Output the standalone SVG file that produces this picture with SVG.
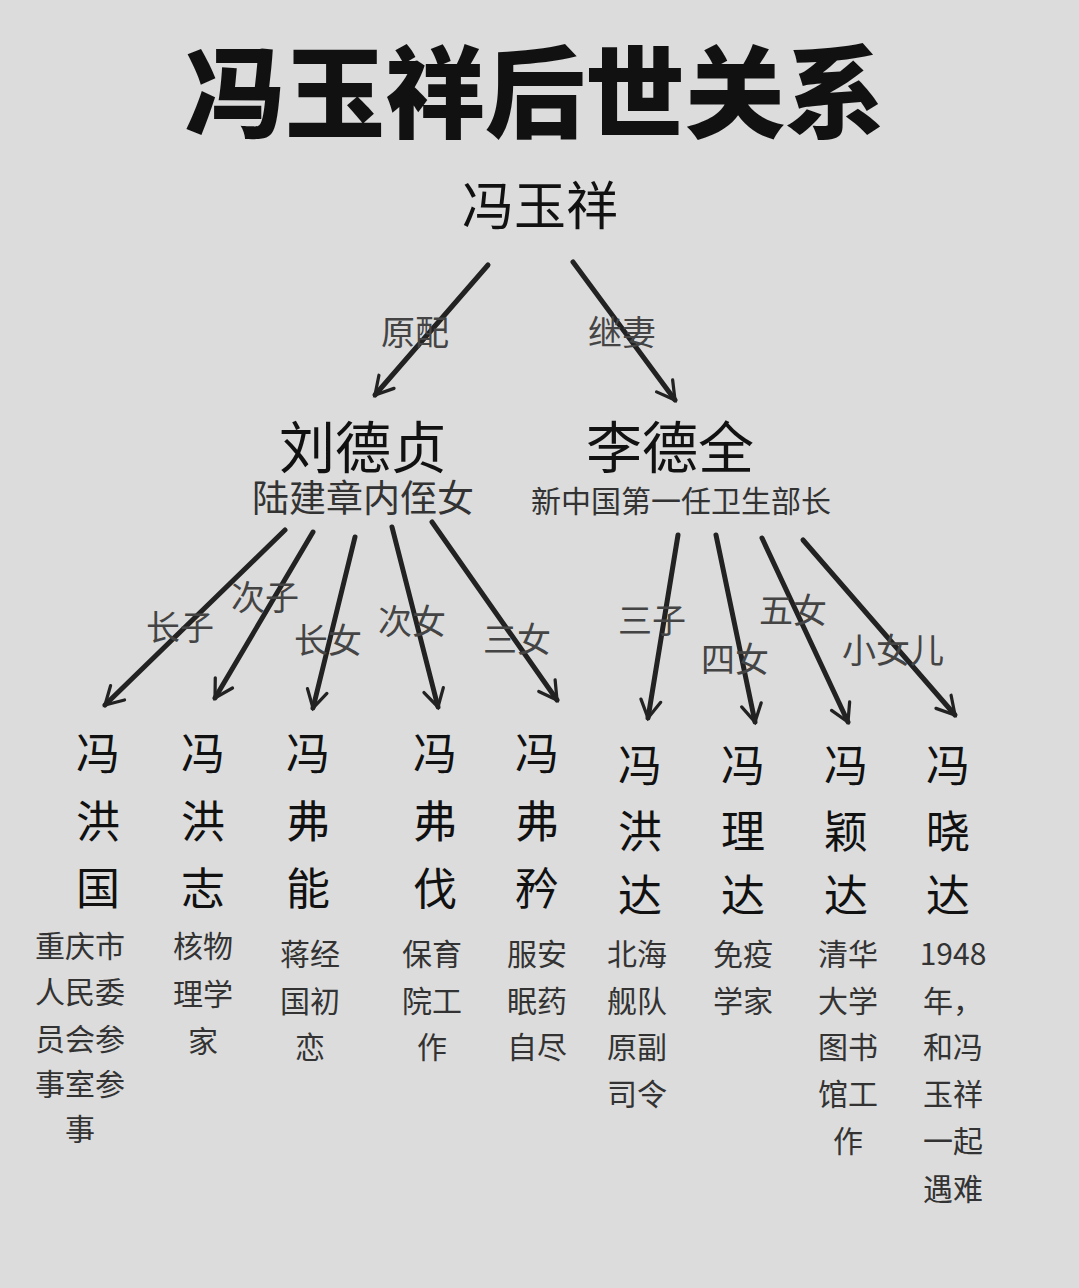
<svg xmlns="http://www.w3.org/2000/svg" width="1079" height="1288" viewBox="0 0 1079 1288">
<defs>
<marker id="ah" viewBox="0 0 10 10" refX="8" refY="5" markerWidth="5" markerHeight="5" orient="auto" markerUnits="strokeWidth"><path d="M1,1 L8,5 L1,9" fill="none" stroke="#222" stroke-width="1.3" stroke-linecap="round"/></marker>
<style>
text{font-family:"Noto Sans CJK SC","Noto Sans",sans-serif;text-anchor:middle;fill:#111}
.t{font-size:100px;font-weight:900}
.n{font-size:52px}
.m{font-size:56px}
.s{font-size:37px;fill:#333}
.l{font-size:34px;fill:#444}
.c{font-size:44px}
.d{font-size:30px;fill:#333}
line{stroke:#222;stroke-width:5;marker-end:url(#ah);stroke-linecap:round}
</style>
</defs>
<rect width="1079" height="1288" fill="#dcdcdc"/>
<text class="t" x="535" y="130">冯玉祥后世关系</text>
<g id="fyx"><text class="n" x="540" y="225">冯玉祥</text></g>
<g id="ldz"><text class="m" x="363" y="468">刘德贞</text><text class="s" x="363" y="512">陆建章内侄女</text></g>
<g id="ldq"><text class="m" x="670" y="468">李德全</text><text class="d" x="681" y="512">新中国第一任卫生部长</text></g>
<g id="connectors">
<line x1="488" y1="265" x2="375" y2="395"/><line x1="573" y1="262" x2="675" y2="400"/>
<line x1="285" y1="530" x2="105" y2="705"/><line x1="313" y1="532" x2="215" y2="698"/>
<line x1="355" y1="537" x2="313" y2="708"/><line x1="392" y1="527" x2="438" y2="707"/>
<line x1="432" y1="522" x2="557" y2="700"/><line x1="678" y1="535" x2="648" y2="718"/>
<line x1="716" y1="535" x2="755" y2="722"/><line x1="762" y1="538" x2="848" y2="722"/>
<line x1="803" y1="540" x2="955" y2="715"/>
<text class="l" x="415" y="345">原配</text><text class="l" x="622" y="345">继妻</text>
<text class="l" x="180" y="640">长子</text><text class="l" x="265" y="610">次子</text>
<text class="l" x="328" y="653">长女</text><text class="l" x="412" y="634">次女</text>
<text class="l" x="517" y="652">三女</text><text class="l" x="652" y="633">三子</text>
<text class="l" x="735" y="672">四女</text><text class="l" x="793" y="623">五女</text>
<text class="l" x="893" y="663">小女儿</text>
</g>
<g id="c1"><text class="c" x="98" y="770">冯</text><text class="c" x="98" y="838">洪</text><text class="c" x="98" y="905">国</text>
<text class="d" x="80" y="957">重庆市</text><text class="d" x="80" y="1003">人民委</text><text class="d" x="80" y="1050">员会参</text><text class="d" x="80" y="1095">事室参</text><text class="d" x="80" y="1140">事</text></g>
<g id="c2"><text class="c" x="203" y="770">冯</text><text class="c" x="203" y="838">洪</text><text class="c" x="203" y="905">志</text>
<text class="d" x="203" y="957">核物</text><text class="d" x="203" y="1005">理学</text><text class="d" x="203" y="1052">家</text></g>
<g id="c3"><text class="c" x="308" y="770">冯</text><text class="c" x="308" y="838">弗</text><text class="c" x="308" y="905">能</text>
<text class="d" x="310" y="965">蒋经</text><text class="d" x="310" y="1012">国初</text><text class="d" x="310" y="1058">恋</text></g>
<g id="c4"><text class="c" x="435" y="770">冯</text><text class="c" x="435" y="838">弗</text><text class="c" x="435" y="905">伐</text>
<text class="d" x="432" y="965">保育</text><text class="d" x="432" y="1012">院工</text><text class="d" x="432" y="1058">作</text></g>
<g id="c5"><text class="c" x="537" y="770">冯</text><text class="c" x="537" y="838">弗</text><text class="c" x="537" y="905">矜</text>
<text class="d" x="537" y="965">服安</text><text class="d" x="537" y="1012">眠药</text><text class="d" x="537" y="1058">自尽</text></g>
<g id="c6"><text class="c" x="640" y="782">冯</text><text class="c" x="640" y="848">洪</text><text class="c" x="640" y="912">达</text>
<text class="d" x="637" y="965">北海</text><text class="d" x="637" y="1012">舰队</text><text class="d" x="637" y="1058">原副</text><text class="d" x="637" y="1105">司令</text></g>
<g id="c7"><text class="c" x="743" y="782">冯</text><text class="c" x="743" y="848">理</text><text class="c" x="743" y="912">达</text>
<text class="d" x="743" y="965">免疫</text><text class="d" x="743" y="1012">学家</text></g>
<g id="c8"><text class="c" x="846" y="782">冯</text><text class="c" x="846" y="848">颖</text><text class="c" x="846" y="912">达</text>
<text class="d" x="848" y="965">清华</text><text class="d" x="848" y="1012">大学</text><text class="d" x="848" y="1058">图书</text><text class="d" x="848" y="1105">馆工</text><text class="d" x="848" y="1152">作</text></g>
<g id="c9"><text class="c" x="948" y="782">冯</text><text class="c" x="948" y="848">晓</text><text class="c" x="948" y="912">达</text>
<text class="d" x="953" y="965">1948</text><text class="d" x="953" y="1012">年，</text><text class="d" x="953" y="1058">和冯</text><text class="d" x="953" y="1105">玉祥</text><text class="d" x="953" y="1152">一起</text><text class="d" x="953" y="1200">遇难</text></g>
</svg>
